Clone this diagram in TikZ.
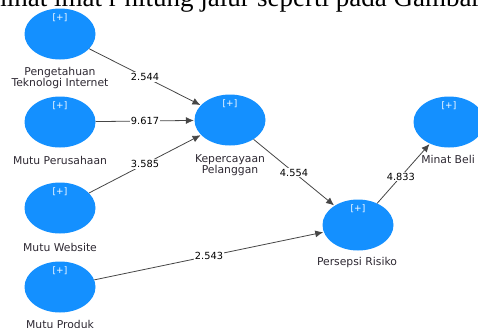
\documentclass[tikz,border=0pt]{standalone}
\usepackage{fontspec}
\setmainfont{DejaVu Sans}
\newfontfamily\serifhead{Liberation Serif}
\usetikzlibrary{shapes.geometric,arrows.meta}
\definecolor{lvblue}{RGB}{20,144,255}
\definecolor{edgegray}{RGB}{70,70,70}
\definecolor{labtext}{RGB}{45,40,50}
\tikzset{
  lv/.style={ellipse,fill=lvblue,draw=none,minimum width=71pt,minimum height=51pt,inner sep=0pt},
  plus/.style={text=white,font=\fontsize{9}{9}\selectfont,inner sep=0pt},
  lvname/.style={text=labtext,font=\fontsize{10.8}{11.5}\selectfont,align=center,inner sep=0pt},
  path/.style={draw=edgegray,line width=0.8pt,-{Latex[length=8pt,width=7pt]},shorten >=0.5pt},
  coef/.style={fill=white,text=black,font=\fontsize{9.8}{10}\selectfont,inner sep=1pt,midway},
  headtext/.style={inner sep=0pt,font=\serifhead\fontsize{27}{27}\selectfont}
}
\begin{document}
\begin{tikzpicture}[x=1pt,y=-1pt]
\useasboundingbox (0,0) rectangle (478,327);
\clip (0,0) rectangle (478,327);
% cut-off heading text
\node[headtext,anchor=base east] (hA) at (250,6) {minat lmat r hitung jalur};
\node[headtext,anchor=base west] (hB) at (257,6) {seperti pada Gambar};
% latent variables
\node[lv] (pti) at (60,34) {};
\node[lv] (mp) at (60,122) {};
\node[lv] (mw) at (60,208) {};
\node[lv] (mpr) at (60,287) {};
\node[lv] (kp) at (230,120) {};
\node[lv] (pr) at (358,225) {};
\node[lv] (mb) at (449,122) {};
% [+] marks
\node[plus] (p1) at (60,18) {[+]};
\node[plus] (p2) at (60,106) {[+]};
\node[plus] (p3) at (60,192) {[+]};
\node[plus] (p4) at (60,271) {[+]};
\node[plus] (p5) at (230,104) {[+]};
\node[plus] (p6) at (358,209) {[+]};
\node[plus] (p7) at (449,106) {[+]};
% names
\node[lvname] (lpti) at (60,78) {Pengetahuan\\Teknologi Internet};
\node[lvname] (lmp) at (60,160) {Mutu Perusahaan};
\node[lvname] (lmw) at (60,247) {Mutu Website};
\node[lvname] (lmpr) at (60,324) {Mutu Produk};
\node[lvname] (lkp) at (230,165) {Kepercayaan\\Pelanggan};
\node[lvname] (lpr) at (357,263) {Persepsi Risiko};
\node[lvname] (lmb) at (448,159) {Minat Beli};
% paths
\draw[path] (pti) -- node[coef] (c1) {2.544} (kp);
\draw[path] (mp) -- node[coef] (c2) {9.617} (kp);
\draw[path] (mw) -- node[coef] (c3) {3.585} (kp);
\draw[path] (mpr) -- node[coef] (c4) {2.543} (pr);
\draw[path] (kp) -- node[coef] (c5) {4.554} (pr);
\draw[path] (pr) -- node[coef,pos=0.45] (c6) {4.833} (mb);
\end{tikzpicture}
\end{document}
